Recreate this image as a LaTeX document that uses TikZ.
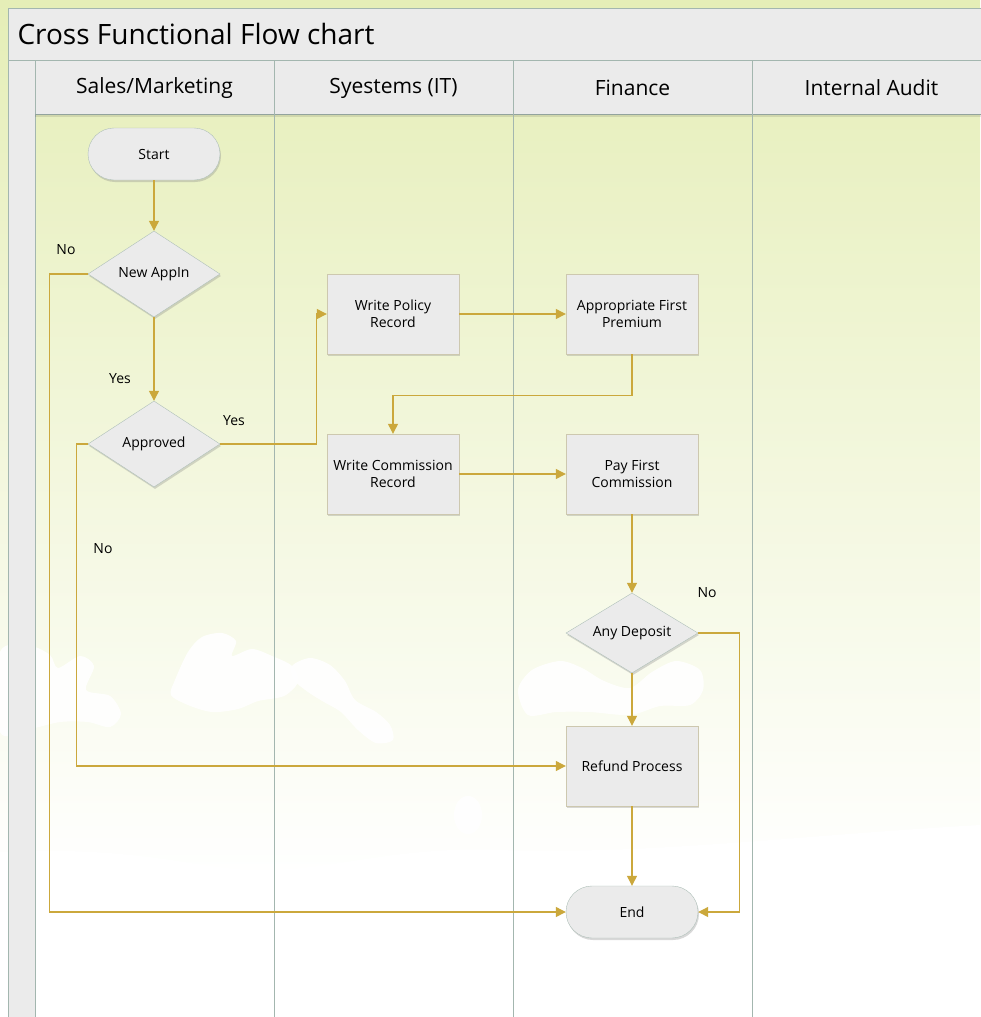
\documentclass[tikz,border=0pt]{standalone}
\usepackage{fontspec}
\setmainfont{Open Sans}
\usepackage{tikz}
\usetikzlibrary{positioning,shapes.geometric,arrows.meta,shadows}

\definecolor{bgtop}{RGB}{229,238,183}
\definecolor{panefill}{RGB}{235,235,235}
\definecolor{paneline}{RGB}{163,182,175}
\definecolor{shapeline}{RGB}{175,192,185}
\definecolor{boxline}{RGB}{205,200,175}
\definecolor{flowline}{RGB}{203,168,60}

\begin{document}
\begin{tikzpicture}[x=1pt,y=-1pt,
  pane/.style={draw=paneline, fill=panefill, line width=1pt},
  process/.style={draw=boxline, fill=panefill, minimum width=132pt, minimum height=80pt,
    align=center, inner sep=2pt, font=\fontsize{14}{17}\selectfont,
    drop shadow={shadow xshift=1pt, shadow yshift=-2pt, opacity=0.3}},
  terminal/.style={process, draw=shapeline, rounded corners=26pt, minimum height=52pt},
  decision/.style={process, draw=shapeline, diamond, aspect=1.55, minimum height=86pt, inner sep=0pt},
  flow/.style={draw=flowline, line width=1.2pt, -{Triangle[length=10pt,width=10pt]}},
  answer/.style={font=\fontsize{14}{17}\selectfont},
  cloud/.style={fill=white, opacity=0.92}]

  % Page and background: green sky fading to white, with clouds
  \useasboundingbox (0,0) rectangle (980,1017);
  \shade[top color=bgtop, middle color=bgtop!80!white, bottom color=white] (0,0) rectangle (980,880);
  \fill[white] (0,880) rectangle (980,1017);
  \fill[white] (0,852) .. controls (150,845) and (200,872) .. (270,870)
    .. controls (340,868) and (400,846) .. (500,850)
    .. controls (650,855) and (800,835) .. (980,825) -- (980,880) -- (0,880) -- cycle;
  \fill[cloud] plot[smooth cycle] coordinates {(0,652) (30,646) (50,655) (58,668) (80,656) (94,666)
    (86,690) (110,696) (121,714) (110,727) (88,722) (60,722) (30,729) (0,732)};
  \fill[cloud] plot[smooth cycle] coordinates {(175,680) (188,652) (202,637) (222,633) (236,641)
    (232,656) (252,649) (272,656) (292,666) (298,682) (284,696) (258,701) (238,709) (212,712) (188,705) (171,695)};
  \fill[cloud] plot[smooth cycle] coordinates {(292,666) (310,658) (330,665) (345,681) (355,700)
    (376,712) (390,725) (393,740) (376,743) (358,730) (341,712) (324,702) (308,692) (294,680)};
  \fill[cloud] plot[smooth cycle] coordinates {(518,690) (532,670) (560,661) (582,668) (604,681)
    (630,688) (652,672) (676,661) (700,670) (703,690) (690,705) (660,706) (630,715) (590,712) (556,712) (528,715)};
  \fill[cloud] (468,815) ellipse (14 and 19);

  % Title bar, left strip and lane headers
  \draw[pane] (8,8) rectangle (995,60);
  \node (title) [anchor=west, font=\fontsize{28}{32}\selectfont] at (14,34) {Cross Functional Flow chart};
  \draw[pane] (8,60) rectangle (35,1030);
  \foreach \lx in {35,274,513,752}
    \draw[pane] (\lx,60) rectangle ++(239,54);
  \fill[black, opacity=0.1] (35,114) rectangle (995,117);
  \foreach \lx in {274,513,752}
    \draw[paneline, line width=1pt] (\lx,114) -- (\lx,1030);

  \node (salesLane)   [font=\fontsize{21}{25}\selectfont] at (154.5,88) {Sales/Marketing};
  \node (systemsLane) [font=\fontsize{21}{25}\selectfont] at (393.5,88) {Syestems (IT)};
  \node (financeLane) [font=\fontsize{21}{25}\selectfont] at (632.5,88) {Finance};
  \node (auditLane)   [font=\fontsize{21}{25}\selectfont] at (871.5,88) {Internal Audit};

  % Flow shapes
  \node (start)      [terminal] at (154,154) {Start};
  \node (newappln)   [decision] at (154,274) {New AppIn};
  \node (approved)   [decision] at (154,444) {Approved};
  \node (policy)     [process]  at (393,314) {Write Policy\\Record};
  \node (premium)    [process]  at (632,314) {Appropriate First\\Premium};
  \node (commission) [process]  at (393,474) {Write Commission\\Record};
  \node (paycomm)    [process]  at (632,474) {Pay First\\Commission};
  \node (deposit)    [decision, aspect=1.65, minimum height=80pt] at (632,633) {Any Deposit};
  \node (refund)     [process]  at (632,766) {Refund Process};
  \node (finish)     [terminal] at (632,912) {End};

  % Connectors
  \draw[flow] (start) -- (newappln);
  \draw[flow] (newappln) -- (approved);
  \draw[flow] (newappln.west) -- ++(-38,0) |- (finish.west);
  \draw[flow] (approved.east) -- ++(96,0) |- (policy.west);
  \draw[flow] (approved.west) -- ++(-11,0) |- (refund.west);
  \draw[flow] (policy) -- (premium);
  \draw[flow] (premium.south) -- ++(0,41) -| (commission.north);
  \draw[flow] (commission) -- (paycomm);
  \draw[flow] (paycomm) -- (deposit);
  \draw[flow] (deposit) -- (refund);
  \draw[flow] (deposit.east) -- ++(41,0) |- (finish.east);
  \draw[flow] (refund) -- (finish);

  % Branch labels
  \node (noNew)      [answer] at (66,250)  {No};
  \node (yesNew)     [answer] at (120,379) {Yes};
  \node (yesApproved)[answer] at (234,421) {Yes};
  \node (noApproved) [answer] at (103,549) {No};
  \node (noDeposit)  [answer] at (707,593) {No};
\end{tikzpicture}
\end{document}
